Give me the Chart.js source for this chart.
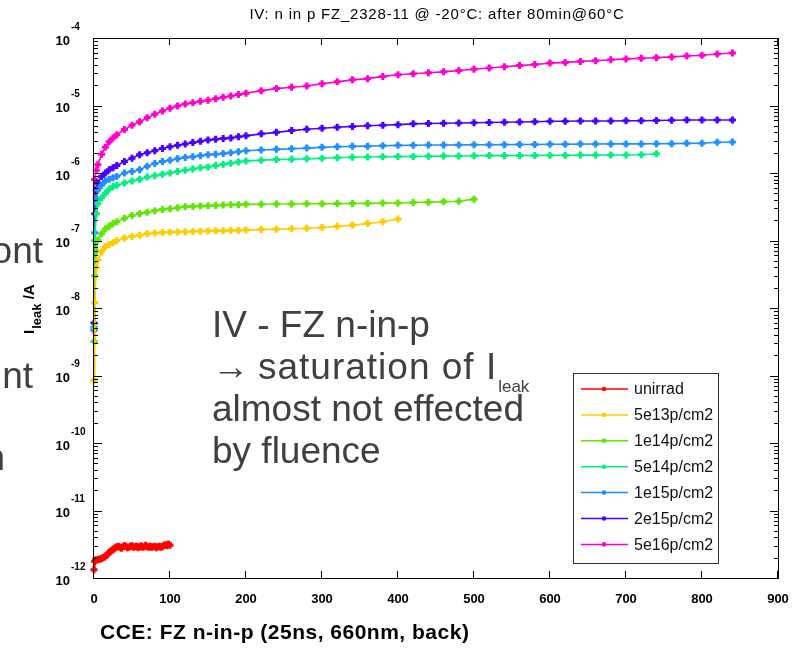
<!DOCTYPE html>
<html><head><meta charset="utf-8">
<script src="https://cdn.jsdelivr.net/npm/chart.js@4"></script>
<style>html,body{margin:0;padding:0;background:#fff}canvas{display:block}</style>
</head><body>
<canvas id="c" width="806" height="652"></canvas>
<script>
// ---- data ----
const chartTitle = "IV: n in p FZ_2328-11 @ -20°C: after 80min@60°C";
const seriesLabels = ["unirrad","5e13p/cm2","1e14p/cm2","5e14p/cm2","1e15p/cm2","2e15p/cm2","5e16p/cm2"];
const seriesColors = ["#ff0000","#ffcc00","#5ce600","#00f080","#1e8fff","#4b00ff","#ff00cc"];
const xTickValues = [0,100,200,300,400,500,600,700,800,900];
const yDecadeExponents = [-12,-11,-10,-9,-8,-7,-6,-5,-4];

const redVoltages = [0,1,2,4,6,8,10,12,14,16,18,20,22,24,26,28,30,32,34,36,38,40,42,44,46,48,50,52,54,56,58,60,62,64,66,68,70,72,74,76,78,80,82,84,86,88,90,92,94,96,98,100];
const unirrad = [1.32e-12,1.75e-12,1.85e-12,1.85e-12,1.9e-12,1.9e-12,1.95e-12,2.0e-12,2.05e-12,2.15e-12,
  2.25e-12,2.4e-12,2.5e-12,2.6e-12,2.7e-12,2.8e-12,2.9e-12,2.95e-12,2.85e-12,2.75e-12,
  2.9e-12,3.0e-12,2.95e-12,2.8e-12,2.85e-12,2.95e-12,3.0e-12,2.85e-12,2.9e-12,2.95e-12,
  2.8e-12,2.9e-12,3.0e-12,2.85e-12,2.9e-12,3.05e-12,2.9e-12,2.85e-12,2.95e-12,2.85e-12,
  2.9e-12,2.95e-12,2.8e-12,2.9e-12,2.95e-12,2.85e-12,2.9e-12,3.05e-12,3.1e-12,3.0e-12,
  3.2e-12,3.05e-12];

const voltages = [0,1,3,5,10,15,20,25,30,
  40,50,60,70,80,90,100,110,120,130,140,150,160,170,180,190,200,
  220,240,260,280,300,320,340,360,380,400,
  420,440,460,480,500,
  520,540,560,580,600,620,640,660,680,700,720,740,
  760,780,800,820,840];

const fl5e13 = [8.5e-10,1.2e-8,4.0e-8,5.1e-8,6.8e-8,8.1e-8,8.7e-8,9.3e-8,1.0e-7,
  1.09e-7,1.15e-7,1.2e-7,1.26e-7,1.29e-7,1.31e-7,1.33e-7,1.34e-7,1.35e-7,1.36e-7,1.37e-7,1.38e-7,1.39e-7,1.4e-7,1.41e-7,1.42e-7,1.43e-7,
  1.45e-7,1.47e-7,1.49e-7,1.52e-7,1.56e-7,1.62e-7,1.69e-7,1.78e-7,1.9e-7,2.08e-7];
const fl1e14 = [3.2e-9,3.0e-8,7.0e-8,1.02e-7,1.26e-7,1.48e-7,1.62e-7,1.78e-7,1.9e-7,
  2.14e-7,2.34e-7,2.5e-7,2.63e-7,2.75e-7,2.88e-7,2.95e-7,3.05e-7,3.16e-7,3.2e-7,3.24e-7,3.28e-7,3.3e-7,3.35e-7,3.38e-7,3.4e-7,3.43e-7,
  3.45e-7,3.47e-7,3.48e-7,3.5e-7,3.5e-7,3.52e-7,3.54e-7,3.55e-7,3.58e-7,3.6e-7,
  3.65e-7,3.7e-7,3.75e-7,3.82e-7,4.1e-7];
const fl5e14 = [5.0e-9,1.0e-7,2.5e-7,3.5e-7,4.3e-7,5.0e-7,5.75e-7,6.3e-7,6.6e-7,
  7.1e-7,7.6e-7,8.1e-7,8.7e-7,9.1e-7,9.6e-7,1.0e-6,1.05e-6,1.1e-6,1.15e-6,1.2e-6,1.23e-6,1.29e-6,1.35e-6,1.4e-6,1.46e-6,1.5e-6,
  1.55e-6,1.58e-6,1.6e-6,1.62e-6,1.65e-6,1.68e-6,1.71e-6,1.73e-6,1.74e-6,1.75e-6,
  1.76e-6,1.77e-6,1.78e-6,1.79e-6,1.8e-6,
  1.81e-6,1.81e-6,1.82e-6,1.82e-6,1.83e-6,1.83e-6,1.84e-6,1.84e-6,1.85e-6,1.85e-6,1.86e-6,1.93e-6];
const fl1e15 = [5.2e-9,1.3e-7,4.2e-7,5.6e-7,6.6e-7,7.6e-7,8.1e-7,8.5e-7,8.9e-7,
  1.0e-6,1.05e-6,1.12e-6,1.26e-6,1.38e-6,1.48e-6,1.55e-6,1.62e-6,1.7e-6,1.74e-6,1.8e-6,1.86e-6,1.9e-6,1.95e-6,2.0e-6,2.07e-6,2.14e-6,
  2.19e-6,2.24e-6,2.29e-6,2.34e-6,2.4e-6,2.45e-6,2.48e-6,2.5e-6,2.53e-6,2.57e-6,
  2.58e-6,2.6e-6,2.6e-6,2.61e-6,2.62e-6,
  2.62e-6,2.63e-6,2.64e-6,2.65e-6,2.66e-6,2.67e-6,2.68e-6,2.69e-6,2.7e-6,2.7e-6,2.7e-6,2.71e-6,
  2.72e-6,2.75e-6,2.76e-6,2.85e-6,2.88e-6];
const fl2e15 = [6.0e-9,2.5e-7,5.6e-7,7.1e-7,8.9e-7,1.0e-6,1.12e-6,1.2e-6,1.29e-6,
  1.48e-6,1.66e-6,1.86e-6,2.0e-6,2.14e-6,2.3e-6,2.45e-6,2.57e-6,2.69e-6,2.82e-6,2.95e-6,3.09e-6,3.16e-6,3.24e-6,3.31e-6,3.43e-6,3.55e-6,
  3.8e-6,4.0e-6,4.25e-6,4.45e-6,4.6e-6,4.75e-6,4.9e-6,5.0e-6,5.1e-6,5.2e-6,
  5.35e-6,5.4e-6,5.45e-6,5.5e-6,5.55e-6,
  5.6e-6,5.65e-6,5.7e-6,5.75e-6,5.85e-6,5.85e-6,5.9e-6,5.9e-6,5.9e-6,5.95e-6,5.95e-6,6.0e-6,
  6.05e-6,6.1e-6,6.1e-6,6.1e-6,6.1e-6];
const fl5e16 = [4.7e-9,8.0e-7,1.1e-6,1.32e-6,1.9e-6,2.4e-6,2.9e-6,3.3e-6,3.7e-6,
  4.4e-6,5.1e-6,5.75e-6,6.6e-6,7.4e-6,8.3e-6,9.1e-6,9.8e-6,1.05e-5,1.1e-5,1.16e-5,1.2e-5,1.26e-5,1.32e-5,1.38e-5,1.45e-5,1.52e-5,
  1.66e-5,1.78e-5,1.86e-5,1.95e-5,2.1e-5,2.24e-5,2.4e-5,2.5e-5,2.7e-5,2.85e-5,
  2.95e-5,3.05e-5,3.15e-5,3.3e-5,3.45e-5,
  3.6e-5,3.75e-5,3.9e-5,4.05e-5,4.25e-5,4.35e-5,4.5e-5,4.6e-5,4.75e-5,4.9e-5,5.0e-5,5.1e-5,
  5.25e-5,5.4e-5,5.55e-5,5.8e-5,6.0e-5];

// ---- build datasets ----
function pts(xs, ys){ return ys.map((v,i)=>({x:xs[i], y:v})); }
const seriesData = [
  pts(redVoltages, unirrad),
  pts(voltages, fl5e13),
  pts(voltages, fl1e14),
  pts(voltages, fl5e14),
  pts(voltages, fl1e15),
  pts(voltages, fl2e15),
  pts(voltages, fl5e16)
];
const datasets = seriesData.map((d,i)=>({
  label: seriesLabels[i],
  data: d,
  borderColor: seriesColors[i],
  backgroundColor: seriesColors[i],
  borderWidth: 1.6,
  pointStyle: 'cross',
  pointRadius: 3.5,
  pointBorderWidth: 3,
  pointHoverRadius: 0,
  tension: 0,
  fill: false,
  clip: 8
}));

const TEXT_GREY = '#404040';
const FONT = '"Liberation Sans", Arial, sans-serif';
const decor = {
  id: 'decor',
  afterDatasetsDraw(chart){
    const ctx = chart.ctx, a = chart.chartArea, xs = chart.scales.x, ys = chart.scales.y;
    ctx.save();
    // frame
    ctx.strokeStyle = '#000'; ctx.lineWidth = 1;
    ctx.strokeRect(Math.round(a.left)-0.5, Math.round(a.top)+0.5, Math.round(a.right-a.left)+1, Math.round(a.bottom-a.top));
    ctx.beginPath();
    // x ticks
    xTickValues.forEach(v=>{
      const px = Math.round(xs.getPixelForValue(v))-0.5;
      ctx.moveTo(px, a.bottom); ctx.lineTo(px, a.bottom-7);
      ctx.moveTo(px, a.top); ctx.lineTo(px, a.top+7);
    });
    // y ticks (log)
    yDecadeExponents.forEach(e=>{
      const py = Math.round(ys.getPixelForValue(Math.pow(10,e)))+0.5;
      ctx.moveTo(a.left, py); ctx.lineTo(a.left+8, py);
      ctx.moveTo(a.right, py); ctx.lineTo(a.right-8, py);
      if (e < -4) {
        for (let m=2; m<=9; m++){
          const pm = Math.round(ys.getPixelForValue(m*Math.pow(10,e)))+0.5;
          ctx.moveTo(a.left, pm); ctx.lineTo(a.left+4, pm);
          ctx.moveTo(a.right, pm); ctx.lineTo(a.right-4, pm);
        }
      }
    });
    ctx.stroke();

    // x tick labels
    ctx.fillStyle = '#000';
    ctx.font = 'bold 13px ' + FONT;
    ctx.textAlign = 'center'; ctx.textBaseline = 'middle';
    xTickValues.forEach(v=>{
      ctx.fillText(String(v), xs.getPixelForValue(v), 599);
    });
    // y tick labels 10^e
    yDecadeExponents.forEach(e=>{
      const py = ys.getPixelForValue(Math.pow(10,e));
      ctx.font = 'bold 13px ' + FONT;
      ctx.textAlign = 'right'; ctx.textBaseline = 'middle';
      ctx.fillText('10', 70, py+3);
      ctx.font = 'bold 10px ' + FONT;
      ctx.textAlign = 'left';
      ctx.fillText(String(e), 71, py-11);
    });

    // y axis title (rotated): I_leak /A
    ctx.save();
    ctx.translate(34, 334);
    ctx.rotate(-Math.PI/2);
    ctx.textAlign = 'left'; ctx.textBaseline = 'alphabetic';
    ctx.font = 'bold 15px ' + FONT;
    ctx.fillText('I', 0, 0);
    let w = ctx.measureText('I').width + 1;
    ctx.font = 'bold 13px ' + FONT;
    ctx.fillText('leak', w, 7);
    w += ctx.measureText('leak').width;
    ctx.font = 'bold 15px ' + FONT;
    ctx.fillText(' /A', w, 0);
    ctx.restore();

    // title
    ctx.font = '15px ' + FONT;
    ctx.letterSpacing = '0.8px';
    ctx.textAlign = 'center'; ctx.textBaseline = 'alphabetic';
    ctx.fillText(chartTitle, 437, 19);
    ctx.letterSpacing = '0px';

    // bottom caption
    ctx.font = 'bold 21px ' + FONT;
    ctx.letterSpacing = '0.5px';
    ctx.textAlign = 'left';
    ctx.fillText('CCE: FZ n-in-p (25ns, 660nm, back)', 100, 639);
    ctx.letterSpacing = '0px';

    // annotation
    ctx.fillStyle = TEXT_GREY;
    ctx.font = '37px ' + FONT;
    ctx.fillText('IV - FZ n-in-p', 212, 337);
    ctx.fillText('\u2192', 212, 379);
    ctx.letterSpacing = '1px';
    ctx.fillText('saturation of I', 258, 379);
    const w2 = ctx.measureText('saturation of I').width;
    ctx.letterSpacing = '0px';
    ctx.font = '17px ' + FONT;
    ctx.fillText('leak', 258 + w2 + 1, 392);
    ctx.font = '37px ' + FONT;
    ctx.fillText('almost not effected', 212, 421);
    ctx.fillText('by fluence', 212, 463);

    // cut-off text fragments at the left edge
    ctx.textAlign = 'right';
    ctx.fillText('ont', 43, 263);
    ctx.fillText('nt', 33, 388);
    ctx.fillText('n', 5, 470);

    // legend box
    ctx.fillStyle = '#fff';
    ctx.fillRect(573, 373, 145, 190);
    ctx.strokeStyle = '#333'; ctx.lineWidth = 1;
    ctx.strokeRect(573.5, 373.5, 145, 190);
    ctx.font = '16px ' + FONT;
    ctx.textAlign = 'left'; ctx.textBaseline = 'middle';
    seriesLabels.forEach((lab,i)=>{
      const y = 389 + i*25.9;
      ctx.strokeStyle = seriesColors[i]; ctx.lineWidth = 1.5;
      ctx.beginPath(); ctx.moveTo(581, y); ctx.lineTo(628, y); ctx.stroke();
      ctx.fillStyle = seriesColors[i];
      ctx.beginPath(); ctx.arc(604, y, 2.3, 0, Math.PI*2); ctx.fill();
      ctx.fillStyle = '#111';
      ctx.fillText(lab, 634, y+1);
    });
    ctx.restore();
  }
};

new Chart(document.getElementById('c'), {
  type: 'line',
  data: { datasets },
  options: {
    responsive: false,
    animation: false,
    devicePixelRatio: 1,
    layout: { padding: { left: 94, right: 28, top: 38, bottom: 74 } },
    scales: {
      x: { type: 'linear', min: 0, max: 900, display: false },
      y: { type: 'logarithmic', min: 1e-12, max: 1e-4, display: false }
    },
    plugins: { legend: { display: false }, tooltip: { enabled: false } },
    events: []
  },
  plugins: [decor]
});
</script>
</body></html>
